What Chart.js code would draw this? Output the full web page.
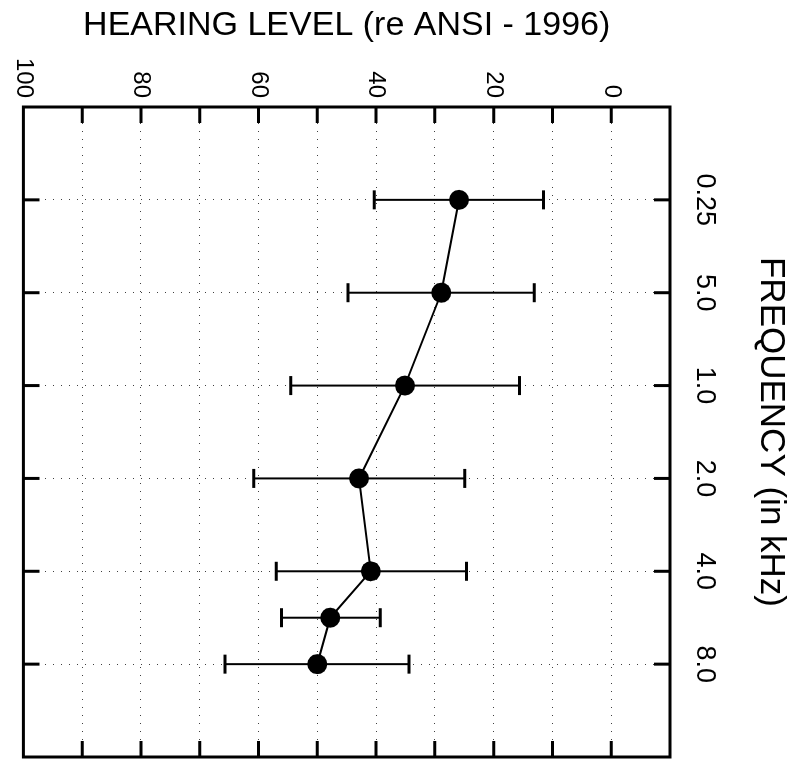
<!DOCTYPE html>
<html>
<head>
<meta charset="utf-8">
<title>Audiogram</title>
<script src="https://cdn.jsdelivr.net/npm/chart.js@4.4.0/dist/chart.umd.min.js"></script>
<style>
  html, body { margin: 0; padding: 0; background: #fff; overflow: hidden; }
  /* the chart is drawn as a normal audiogram and turned a quarter clockwise */
  #wrap {
    position: absolute; left: 0; top: 0;
    width: 778px; height: 800px;
    transform-origin: 0 0;
    transform: translate(800px, 0) rotate(90deg);
  }
</style>
</head>
<body>
<div id="wrap"><canvas id="audiogram" width="778" height="800"></canvas></div>
<script>
// **********************************************
// Data (frequency position in octaves from 0.25 kHz)

const freqPos   = [0, 1, 2, 3, 4, 4.5, 5];
const meanLevel = [25.9, 28.9, 35.1, 42.9, 40.9, 47.8, 50.0];
const lowLevel  = [11.5, 13.1, 15.6, 24.9, 24.6, 39.3, 34.4];
const highLevel = [40.3, 44.8, 54.5, 60.8, 57.0, 56.1, 65.7];

const freqTickPos    = [0, 1, 2, 3, 4, 5];
const freqTickLabels = ['0.25', '5.0', '1.0', '2.0', '4.0', '8.0'];
const levelLabelStep = 20;


// **********************************************
// Plugins: error bars and the boxed frame with inward ticks

const errorBars = {
    id: 'errorBars',
    beforeDatasetsDraw(chart) {
        const ctx = chart.ctx;
        const xs = chart.scales.x;
        const ys = chart.scales.y;
        ctx.save();
        ctx.strokeStyle = '#000';
        for (let i = 0; i < freqPos.length; i++) {
            let px = xs.getPixelForValue(freqPos[i]);
            let y1 = ys.getPixelForValue(lowLevel[i]);
            let y2 = ys.getPixelForValue(highLevel[i]);
            ctx.lineWidth = 2;
            ctx.beginPath();
            ctx.moveTo(px, y1);
            ctx.lineTo(px, y2);
            ctx.stroke();
            ctx.lineWidth = 3;
            ctx.beginPath();
            ctx.moveTo(px - 9.5, y1); ctx.lineTo(px + 9.5, y1);
            ctx.moveTo(px - 9.5, y2); ctx.lineTo(px + 9.5, y2);
            ctx.stroke();
        }
        ctx.restore();
    }
};

const frame = {
    id: 'frame',
    afterDatasetsDraw(chart) {
        const ctx = chart.ctx;
        const a = chart.chartArea;
        const xs = chart.scales.x;
        const ys = chart.scales.y;
        const len = 16;
        ctx.save();
        ctx.strokeStyle = '#000';
        ctx.lineWidth = 3;
        ctx.strokeRect(a.left, a.top, a.right - a.left, a.bottom - a.top);
        ctx.beginPath();
        for (let v = 0; v <= 90; v += 10) {
            let py = ys.getPixelForValue(v);
            ctx.moveTo(a.left, py); ctx.lineTo(a.left + len, py);
            ctx.moveTo(a.right, py); ctx.lineTo(a.right - len, py);
        }
        for (let f of freqTickPos) {
            let px = xs.getPixelForValue(f);
            ctx.moveTo(px, a.top); ctx.lineTo(px, a.top + len);
            ctx.moveTo(px, a.bottom); ctx.lineTo(px, a.bottom - len);
        }
        ctx.stroke();
        ctx.restore();
    }
};


// **********************************************
// Chart

let ctx = document.getElementById('audiogram').getContext('2d');

let points = freqPos.map((f, i) => ({x: f, y: meanLevel[i]}));

let audiogram = new Chart(ctx, {
    type: 'line',
    data: {
        datasets: [{
            data: points,
            borderColor: '#000',
            borderWidth: 2,
            pointRadius: 10,
            pointBackgroundColor: '#000',
            pointBorderWidth: 0,
            tension: 0
        }]
    },
    options: {
        responsive: false,
        animation: false,
        devicePixelRatio: 1,
        layout: {
            padding: {left: 0, top: 0, right: 21, bottom: 21}
        },
        plugins: {
            legend: {display: false},
            tooltip: {enabled: false}
        },
        scales: {
            x: {
                type: 'linear',
                position: 'top',
                min: -1,
                max: 6,
                afterBuildTicks: (scale) => {
                    scale.ticks = freqTickPos.map(v => ({value: v}));
                },
                afterFit: (scale) => { scale.height = 130; },
                ticks: {
                    autoSkip: false,
                    maxRotation: 0,
                    minRotation: 0,
                    padding: 18,
                    color: '#000',
                    font: {family: 'Liberation Sans', size: 27},
                    callback: (v) => freqTickLabels[freqTickPos.indexOf(v)]
                },
                grid: {
                    drawTicks: false,
                    color: 'rgba(0,0,0,0.75)',
                    lineWidth: 1
                },
                border: {display: false, dash: [1, 7]},
                title: {
                    display: true,
                    text: 'FREQUENCY (in kHz)',
                    color: '#000',
                    font: {family: 'Liberation Sans', size: 35, lineHeight: 1},
                    padding: {top: 12, bottom: 0}
                }
            },
            y: {
                type: 'linear',
                position: 'left',
                min: -10,
                max: 100,
                reverse: true,
                afterFit: (scale) => { scale.width = 107; },
                ticks: {
                    stepSize: 10,
                    padding: 9,
                    color: '#000',
                    font: {family: 'Liberation Sans', size: 24},
                    callback: (v) => (v % levelLabelStep === 0 ? String(v) : '')
                },
                grid: {
                    drawTicks: false,
                    color: 'rgba(0,0,0,0.75)',
                    lineWidth: 1
                },
                border: {display: false, dash: [1, 7]},
                title: {
                    display: true,
                    text: 'HEARING LEVEL (re ANSI - 1996)',
                    color: '#000',
                    font: {family: 'Liberation Sans', size: 34, lineHeight: 1},
                    padding: {top: 9, bottom: 0}
                }
            }
        }
    },
    plugins: [errorBars, frame]
});
</script>
</body>
</html>
